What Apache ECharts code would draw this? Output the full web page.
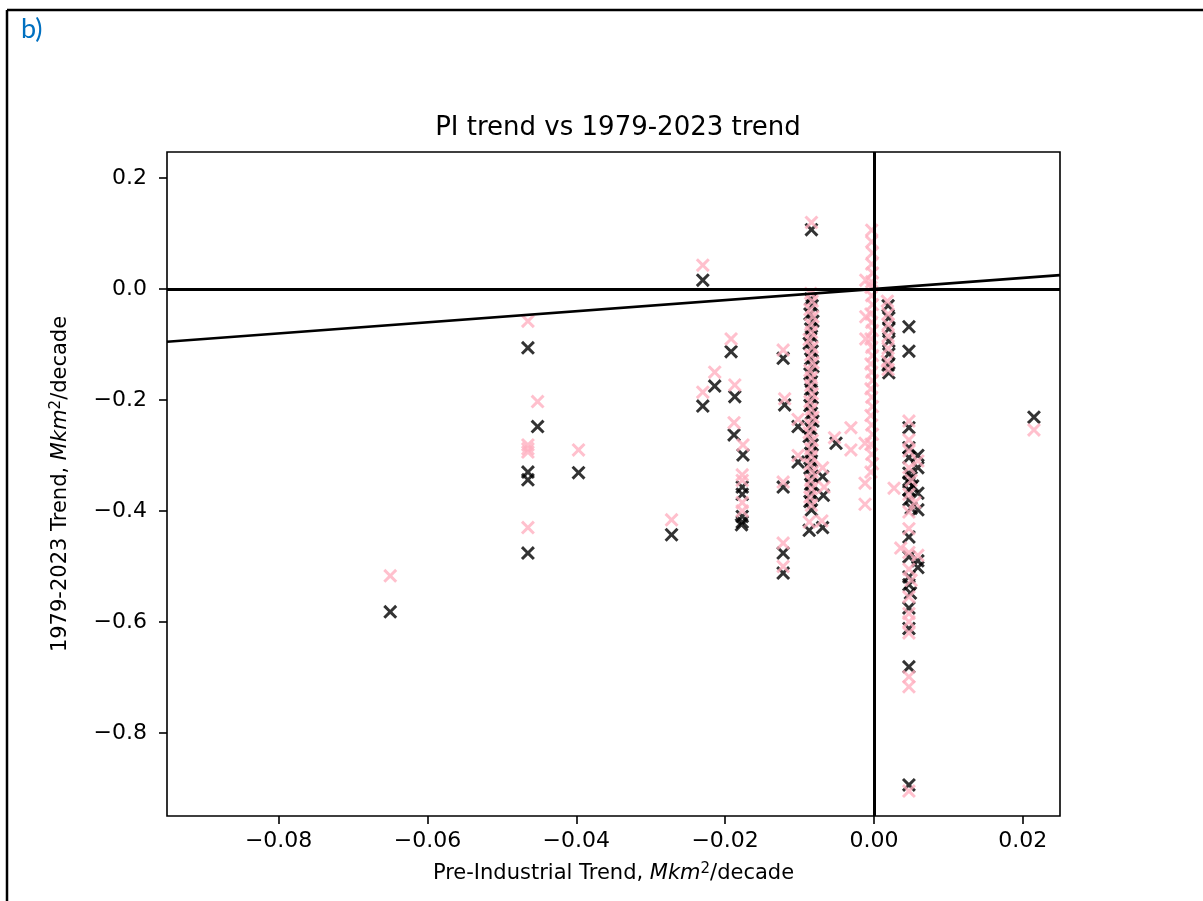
<!DOCTYPE html>
<html>
<head>
<meta charset="utf-8">
<script src="https://cdn.jsdelivr.net/npm/echarts@6/dist/echarts.min.js"></script>
<style>
  html, body { margin: 0; padding: 0; background: #fff; }
  #chart { width: 1203px; height: 901px; }
</style>
</head>
<body>
<div id="chart"></div>
<script>
// axis limits and ticks
var xRange = [-0.095, 0.025];
var yRange = [-0.95, 0.247];
var xTicks = [-0.08, -0.06, -0.04, -0.02, 0.0, 0.02];
var yTicks = [-0.8, -0.6, -0.4, -0.2, 0.0, 0.2];

// 1979-2023 trend vs PI trend, black set  [PI trend, obs trend]
var blackPts = [
  [-0.0650, -0.582],
  [-0.0465, -0.106], [-0.0465, -0.330], [-0.0465, -0.344], [-0.0465, -0.476],
  [-0.0452, -0.248], [-0.0397, -0.331], [-0.0272, -0.443],
  [-0.0230, 0.016], [-0.0230, -0.211], [-0.0214, -0.175], [-0.0192, -0.113],
  [-0.0187, -0.194], [-0.0188, -0.263], [-0.0176, -0.299],
  [-0.0177, -0.357], [-0.0177, -0.370], [-0.0177, -0.410], [-0.0177, -0.420], [-0.0178, -0.425],
  [-0.0122, -0.125], [-0.0120, -0.209], [-0.0122, -0.357], [-0.0122, -0.476], [-0.0122, -0.512],
  [-0.0102, -0.248], [-0.0102, -0.312],
  [-0.0084, 0.107],
  [-0.0085, -0.018], [-0.0083, -0.030], [-0.0086, -0.045], [-0.0082, -0.058], [-0.0085, -0.072],
  [-0.0084, -0.085], [-0.0087, -0.098], [-0.0083, -0.112], [-0.0085, -0.126], [-0.0082, -0.140],
  [-0.0086, -0.153], [-0.0084, -0.167], [-0.0085, -0.181], [-0.0083, -0.196], [-0.0086, -0.210],
  [-0.0084, -0.224], [-0.0082, -0.238], [-0.0085, -0.252], [-0.0087, -0.266], [-0.0083, -0.281],
  [-0.0085, -0.296], [-0.0084, -0.310], [-0.0086, -0.323], [-0.0083, -0.338], [-0.0085, -0.352],
  [-0.0084, -0.368], [-0.0086, -0.383], [-0.0084, -0.398], [-0.0087, -0.435],
  [-0.0069, -0.338], [-0.0068, -0.372], [-0.0069, -0.430],
  [-0.0051, -0.278],
  [0.0019, -0.030], [0.0020, -0.052], [0.0020, -0.072], [0.0020, -0.094],
  [0.0020, -0.117], [0.0019, -0.137], [0.0020, -0.151],
  [0.0047, -0.068], [0.0047, -0.112],
  [0.0047, -0.250], [0.0047, -0.286], [0.0047, -0.304], [0.0059, -0.300], [0.0059, -0.322],
  [0.0047, -0.332], [0.0050, -0.340], [0.0047, -0.348], [0.0052, -0.355], [0.0047, -0.362],
  [0.0059, -0.368], [0.0047, -0.380], [0.0050, -0.395], [0.0059, -0.398], [0.0047, -0.447],
  [0.0047, -0.483], [0.0059, -0.490], [0.0059, -0.502], [0.0047, -0.519], [0.0047, -0.533],
  [0.0049, -0.548], [0.0047, -0.575], [0.0047, -0.612], [0.0047, -0.681], [0.0047, -0.894],
  [0.0215, -0.231]
];

// pink set
var pinkPts = [
  [-0.0650, -0.517],
  [-0.0465, -0.058], [-0.0465, -0.281], [-0.0465, -0.288], [-0.0465, -0.294], [-0.0465, -0.430],
  [-0.0452, -0.203], [-0.0397, -0.290], [-0.0272, -0.416],
  [-0.0230, 0.043], [-0.0230, -0.186], [-0.0214, -0.150], [-0.0192, -0.090],
  [-0.0187, -0.173], [-0.0188, -0.241], [-0.0176, -0.281],
  [-0.0177, -0.335], [-0.0177, -0.345], [-0.0177, -0.385], [-0.0177, -0.400],
  [-0.0122, -0.110], [-0.0120, -0.198], [-0.0122, -0.348], [-0.0122, -0.458], [-0.0122, -0.500],
  [-0.0102, -0.235], [-0.0102, -0.300],
  [-0.0084, 0.120],
  [-0.0085, -0.008], [-0.0083, -0.022], [-0.0086, -0.037], [-0.0082, -0.050], [-0.0085, -0.064],
  [-0.0084, -0.078], [-0.0087, -0.091], [-0.0083, -0.105], [-0.0085, -0.119], [-0.0082, -0.133],
  [-0.0086, -0.147], [-0.0084, -0.160], [-0.0085, -0.174], [-0.0083, -0.189], [-0.0086, -0.203],
  [-0.0084, -0.217], [-0.0082, -0.231], [-0.0085, -0.245], [-0.0087, -0.259], [-0.0083, -0.273],
  [-0.0085, -0.288], [-0.0084, -0.302], [-0.0086, -0.316], [-0.0083, -0.330], [-0.0085, -0.345],
  [-0.0084, -0.360], [-0.0086, -0.375], [-0.0084, -0.390], [-0.0087, -0.420],
  [-0.0069, -0.322], [-0.0067, -0.357], [-0.0070, -0.418],
  [-0.0053, -0.268], [-0.0031, -0.250], [-0.0031, -0.290],
  [-0.0012, -0.278], [-0.0012, -0.350], [-0.0012, -0.388],
  [-0.0011, 0.016], [-0.0011, -0.050], [-0.0011, -0.090],
  [-0.0003, 0.106], [-0.0003, 0.085], [-0.0002, 0.065], [-0.0003, 0.045], [-0.0002, 0.029],
  [-0.0003, 0.013], [-0.0004, 0.003], [-0.0003, -0.012], [-0.0002, -0.028], [-0.0004, -0.045],
  [-0.0003, -0.060], [-0.0002, -0.075], [-0.0004, -0.090], [-0.0003, -0.105], [-0.0002, -0.120],
  [-0.0004, -0.135], [-0.0003, -0.150], [-0.0002, -0.165], [-0.0004, -0.180], [-0.0003, -0.195],
  [-0.0002, -0.212], [-0.0004, -0.228], [-0.0003, -0.245], [-0.0002, -0.262], [-0.0004, -0.280],
  [-0.0003, -0.298], [-0.0002, -0.315], [-0.0004, -0.330],
  [0.0018, -0.022], [0.0019, -0.045], [0.0019, -0.064], [0.0019, -0.085],
  [0.0019, -0.107], [0.0018, -0.130], [0.0019, -0.145],
  [0.0047, -0.238], [0.0047, -0.272], [0.0047, -0.292], [0.0059, -0.310], [0.0047, -0.322],
  [0.0027, -0.359], [0.0050, -0.345], [0.0047, -0.370], [0.0055, -0.385], [0.0047, -0.402],
  [0.0047, -0.432], [0.0036, -0.467], [0.0047, -0.475], [0.0059, -0.480], [0.0047, -0.505],
  [0.0050, -0.525], [0.0047, -0.555], [0.0047, -0.585], [0.0047, -0.600], [0.0047, -0.620],
  [0.0047, -0.699], [0.0047, -0.717], [0.0047, -0.905],
  [0.0215, -0.254]
];

// 1:1 line across the x range
var oneToOne = [[xRange[0], xRange[0]], [xRange[1], xRange[1]]];

// matplotlib-like 'x' marker
var xMarker = 'path://M0,1.5L1.5,0L5,3.5L8.5,0L10,1.5L6.5,5L10,8.5L8.5,10L5,6.5L1.5,10L0,8.5L3.5,5Z';

function fmt(v, d) {
  var s = v.toFixed(d);
  if (Math.abs(v) < 1e-9) s = (0).toFixed(d);
  return s.replace('-', '\u2212');
}

var FONT = 'DejaVu Sans';
var nameRich = {
  n: { fontFamily: FONT, fontSize: 21, color: '#000' },
  i: { fontFamily: FONT, fontSize: 21, fontStyle: 'italic', color: '#000' },
  s: { fontFamily: FONT, fontSize: 15, color: '#000', verticalAlign: 'top', padding: [0, 0, 8, 0] }
};

var chart = echarts.init(document.getElementById('chart'));
var option = {
  animation: false,
  backgroundColor: '#fff',
  title: [
    {
      text: 'PI trend vs 1979-2023 trend',
      left: 613,
      top: 110,
      textAlign: 'center',
      textStyle: { fontFamily: FONT, fontSize: 26, fontWeight: 'normal', color: '#000' }
    },
    {
      text: 'b)',
      left: 16,
      top: 11,
      textStyle: { fontFamily: 'Lato', fontSize: 27, fontWeight: 'normal', color: '#0070c0' }
    }
  ],
  graphic: [
    { type: 'line', shape: { x1: 7, y1: 10, x2: 1203, y2: 10 }, style: { stroke: '#000', lineWidth: 2.5 } },
    { type: 'line', shape: { x1: 7, y1: 10, x2: 7, y2: 901 }, style: { stroke: '#000', lineWidth: 2.5 } }
  ],
  grid: {
    left: 167, right: 143, top: 152, bottom: 85,
    show: true, borderColor: '#000', borderWidth: 1.6, backgroundColor: 'transparent'
  },
  xAxis: {
    type: 'value',
    min: xRange[0], max: xRange[1],
    name: '{n|Pre-Industrial Trend, }{i|Mkm}{s|2}{n|/decade}',
    nameLocation: 'middle',
    nameGap: 46,
    nameTextStyle: { rich: nameRich },
    axisLine: { show: false, onZero: false },
    splitLine: { show: false },
    axisTick: { show: true, inside: false, length: 8, customValues: xTicks, lineStyle: { color: '#000', width: 1.6 } },
    axisLabel: {
      customValues: xTicks, margin: 14,
      fontFamily: FONT, fontSize: 22, color: '#000',
      formatter: function (v) { return fmt(v, 2); }
    }
  },
  yAxis: {
    type: 'value',
    min: yRange[0], max: yRange[1],
    name: '{n|1979-2023 Trend, }{i|Mkm}{s|2}{n|/decade}',
    nameLocation: 'middle',
    nameRotate: 90,
    nameGap: 95,
    nameTextStyle: { rich: nameRich },
    axisLine: { show: false, onZero: false },
    splitLine: { show: false },
    axisTick: { show: true, inside: false, length: 8, customValues: yTicks, lineStyle: { color: '#000', width: 1.6 } },
    axisLabel: {
      customValues: yTicks, margin: 20,
      fontFamily: FONT, fontSize: 22, color: '#000',
      formatter: function (v) { return fmt(v, 1); }
    }
  },
  series: [
    {
      name: 'black', type: 'scatter', data: blackPts,
      symbol: xMarker, symbolSize: 14, z: 2,
      itemStyle: { color: '#000' }
    },
    {
      name: 'pink', type: 'scatter', data: pinkPts,
      symbol: xMarker, symbolSize: 14, z: 3,
      itemStyle: { color: '#ffb0c0', opacity: 0.8 }
    },
    {
      name: 'one to one', type: 'line', data: oneToOne,
      symbol: 'none', z: 4, silent: true,
      lineStyle: { color: '#000', width: 2.6 },
      markLine: {
        silent: true, symbol: 'none', animation: false,
        label: { show: false },
        lineStyle: { color: '#000', width: 3, type: 'solid' },
        data: [{ yAxis: 0 }, { xAxis: 0 }]
      }
    }
  ]
};
chart.setOption(option);
</script>
</body>
</html>
